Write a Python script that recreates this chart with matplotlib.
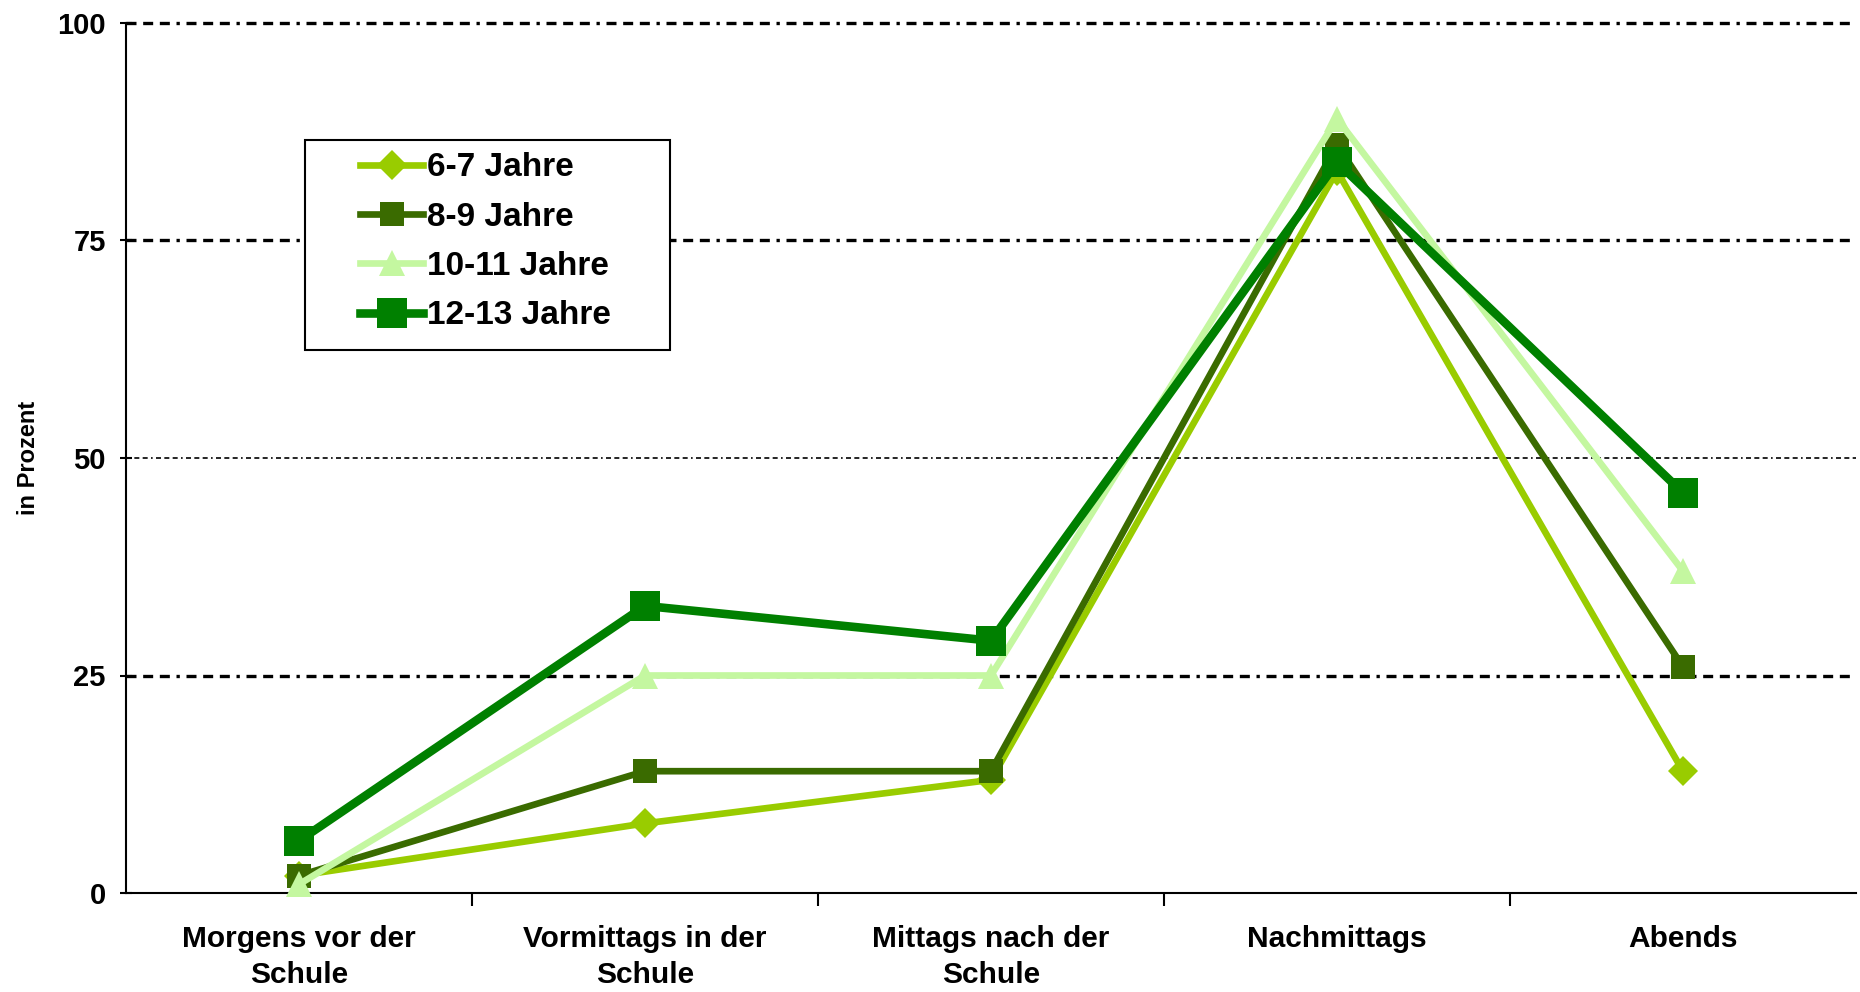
import matplotlib
matplotlib.use("Agg")
import matplotlib.pyplot as plt
from matplotlib.patches import Rectangle

plt.rcParams['font.family'] = ['Liberation Sans', 'DejaVu Sans']

categories = ["Morgens vor der\nSchule", "Vormittags in der\nSchule", "Mittags nach der\nSchule", "Nachmittags", "Abends"]
series_labels = ["6-7 Jahre", "8-9 Jahre", "10-11 Jahre", "12-13 Jahre"]
v_6_7 = [2, 8, 13, 83, 14]
v_8_9 = [2, 14, 14, 86, 26]
v_10_11 = [1, 25, 25, 89, 37]
v_12_13 = [6, 33, 29, 84, 46]
y_ticks = [0, 25, 50, 75, 100]

colors = ["#99cc00", "#3a6b00", "#c4f7a0", "#008000"]
markers = ["D", "s", "^", "s"]
msizes = [15, 17, 19, 22]
lwidths = [4.8, 4.8, 4.8, 6.2]

W, H = 1860, 992
fig = plt.figure(figsize=(W / 100, H / 100), dpi=100)
ax = fig.add_axes([126/W, 1-893/H, (1856-126)/W, (893-23)/H])

xs = list(range(len(categories)))
all_vals = [v_6_7, v_8_9, v_10_11, v_12_13]
for vals, lab, c, m, ms, lw in zip(all_vals, series_labels, colors, markers, msizes, lwidths):
    ax.plot(xs, vals, color=c, marker=m, markersize=ms, linewidth=lw, label=lab,
            markeredgewidth=0, clip_on=False, zorder=3)

ax.set_xlim(-0.5, len(categories) - 0.5)
ax.set_ylim(0, 100)
ax.set_yticks(y_ticks)
ax.set_yticklabels([str(t) for t in y_ticks], fontsize=21, fontweight='bold')
ax.set_xticks(xs)
ax.set_xticklabels(categories, fontsize=21.5, fontweight='bold', linespacing=1.35)
ax.tick_params(axis='x', length=0, pad=23)
ax.set_xticks([i + 0.5 for i in xs[:-1]], minor=True)
ax.tick_params(axis='x', which='minor', length=9, width=1.5, direction='out')
ax.tick_params(axis='y', length=9, width=1.5, direction='inout', pad=10)

ax.yaxis.grid(True, color='black', linestyle=(0, (3, 2, 3, 2, 3, 2, 1, 2)), linewidth=2.4)
for g, t in zip(ax.get_ygridlines(), y_ticks):
    g.set_clip_on(False)
    if t == 50:
        g.set_linewidth(1.2)
    if t == 0:
        g.set_visible(False)
ax.set_axisbelow(True)

for s in ['top', 'right']:
    ax.spines[s].set_visible(False)
ax.spines['left'].set_linewidth(1.5)
ax.spines['bottom'].set_linewidth(1.5)

ax.set_ylabel("in Prozent", fontsize=17, fontweight='bold')
ax.yaxis.set_label_coords(-0.05, 0.5)

# legend frame
frame = Rectangle((305/W, 1-350/H), (670-305)/W, (350-140)/H,
                  transform=fig.transFigure, fill=True, facecolor='white',
                  edgecolor='black', linewidth=1.5, zorder=5, clip_on=False)
ax.add_artist(frame)
leg = ax.legend(loc='center left', bbox_to_anchor=(360/W, 1-242/H),
                bbox_transform=fig.transFigure, fontsize=24, frameon=False,
                handlelength=1.9, labelspacing=0.55, borderpad=0, handletextpad=0.1,
                borderaxespad=0)
leg.set_zorder(6)
for t in leg.get_texts():
    t.set_fontweight('bold')

fig.savefig("out.png", dpi=100)
